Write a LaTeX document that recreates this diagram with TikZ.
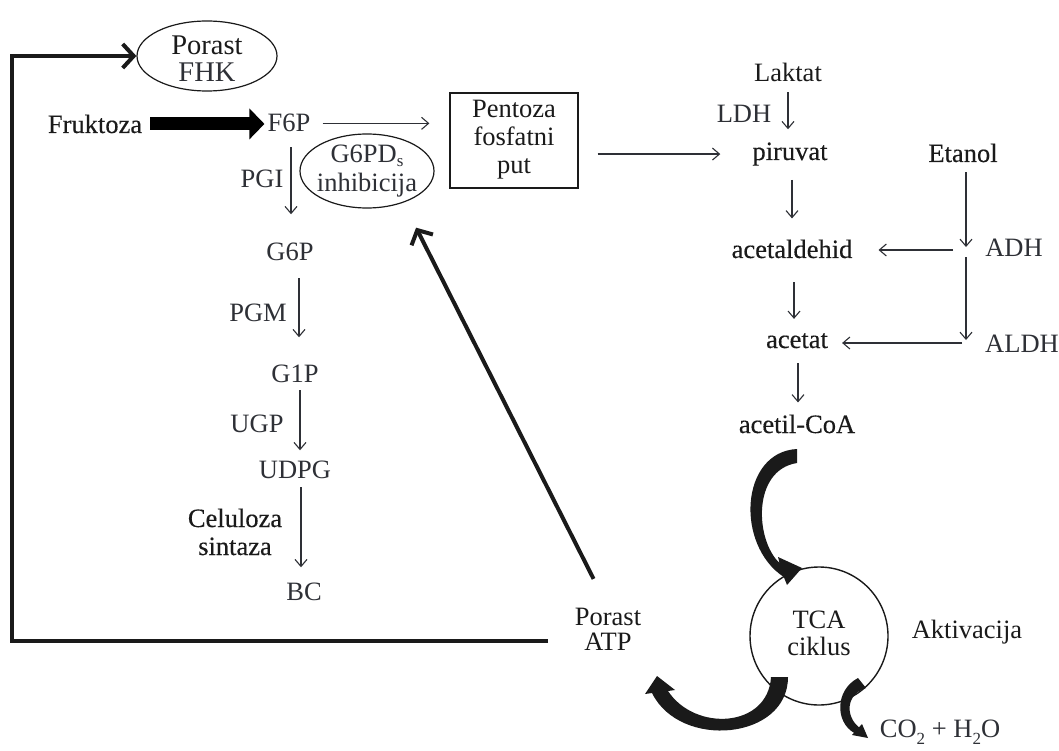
\documentclass[tikz,border=0pt]{standalone}
\usepackage{fontspec}
\setmainfont{Liberation Serif}
\newfontfamily\heavyserif{Liberation Serif}[FakeBold=0.3]
\usetikzlibrary{shapes.geometric,arrows.meta,calc}
\definecolor{ink}{HTML}{1A1A1A}
\definecolor{soft}{HTML}{2E3036}
\newcommand\lowsub[2][0.3em]{\raisebox{-#1}{\fontsize{17}{17}\selectfont #2}}
\begin{document}
\begin{tikzpicture}[x=1pt,y=-1pt,
  blab/.style={font=\fontsize{26.5}{28}\selectfont, text=ink, inner sep=0pt, anchor=base},
  hlab/.style={font=\heavyserif\fontsize{26.5}{28}\selectfont, text=ink, inner sep=0pt, anchor=base},
  glab/.style={font=\fontsize{26.5}{28}\selectfont, text=soft, inner sep=0pt, anchor=base},
  oval/.style={ellipse, draw=ink, line width=1.2pt, inner sep=0pt},
  thinarr/.style={draw=soft, line width=1.1pt, -{Straight Barb[length=7pt,width=12pt]}},
  fatarr/.style={draw=ink, line width=4pt, -{Straight Barb[length=11pt,width=24pt]}},
]
\useasboundingbox[fill=white] (0,0) rectangle (1059,751);

% ---- top left
\node[oval, minimum width=140pt, minimum height=70pt] (fhk) at (207,56) {};
\node[blab, font=\fontsize{28.5}{30}\selectfont] (porastT) at (207,55) {Porast};
\node[glab, font=\fontsize{28.5}{30}\selectfont] (fhkT) at (207,82) {FHK};

\node[hlab] (fruk) at (95,133) {Fruktoza};
\node[glab] (f6p) at (289,132) {F6P};

\node[oval, minimum width=134pt, minimum height=74pt] (g6pd) at (367,171) {};
\node[glab] (g6pdT) at (367,163) {G6PD\lowsub[0.15em]{s}};
\node[glab] (inhT) at (367,192) {inhibicija};

\node[draw=ink, line width=1.2pt, minimum width=128pt, minimum height=95pt, inner sep=0pt] (pent) at (514,140.5) {};
\node[blab] (pent1) at (514,118) {Pentoza};
\node[blab] (pent2) at (514,146) {fosfatni};
\node[blab] (pent3) at (514,174) {put};

% ---- left chain
\node[glab] (pgi) at (262,188) {PGI};
\node[glab] (g6p) at (290,261) {G6P};
\node[glab] (pgm) at (258,321) {PGM};
\node[glab] (g1p) at (295,382) {G1P};
\node[glab] (ugp) at (257,432) {UGP};
\node[glab] (udpg) at (295,478) {UDPG};
\node[hlab] (celu1) at (235,527) {Celuloza};
\node[hlab] (celu2) at (235,555) {sintaza};
\node[glab] (bc) at (304,600) {BC};

% ---- right chain
\node[blab] (laktat) at (788,82) {Laktat};
\node[glab] (ldh) at (744,123) {LDH};
\node[hlab] (piruvat) at (790,160) {piruvat};
\node[hlab] (etanol) at (963,162) {Etanol};
\node[hlab] (acald) at (792,258) {acetaldehid};
\node[glab] (adh) at (1014,256) {ADH};
\node[hlab] (acetat) at (797,348) {acetat};
\node[glab] (aldh) at (1022,352) {ALDH};
\node[hlab] (acoa) at (797,433) {acetil-CoA};
\coordinate (adhj) at (966,250);
\coordinate (aldhj) at (966,343);

% ---- bottom
\node[circle, draw=ink, line width=1.4pt, minimum size=138pt, inner sep=0pt] (tca) at (819,636) {};
\node[blab] (tca1) at (819,628) {TCA};
\node[blab] (tca2) at (819,655) {ciklus};
\node[blab] (aktiv) at (967,638) {Aktivacija};
\node[blab] (atp1) at (608,625) {Porast};
\node[blab] (atp2) at (608,650) {ATP};
\node[glab] (co2) at (940,737) {CO\lowsub{2} + H\lowsub{2}O};
\coordinate (fb) at (548,641);

% ---- thin arrows
\draw[thinarr, shorten <=12pt, shorten >=20pt] (f6p.east) -- (f6p.east -| pent.west);
\draw[thinarr, shorten <=19pt, shorten >=32pt] (pent.east |- piruvat) -- (piruvat.west);
\draw[thinarr, shorten <=10pt, shorten >=13pt] (laktat.south) -- (laktat.south |- piruvat.north);
\draw[thinarr, shorten <=14pt, shorten >=21pt] ([xshift=2pt]piruvat.south) -- ([xshift=2pt]piruvat.south |- acald.north);
\draw[thinarr, shorten <=24pt, shorten >=14pt] ([xshift=2pt]acald.south) -- ([xshift=2pt]acald.south |- acetat.north);
\draw[thinarr, shorten <=15pt, shorten >=12pt] ([xshift=1pt]acetat.south) -- ([xshift=1pt]acetat.south |- acoa.north);
\draw[thinarr, shorten <=10pt, shorten >=3pt] (adhj |- etanol.south) -- (adhj);
\draw[thinarr, shorten <=7pt, shorten >=3pt] (adhj) -- (aldhj);
\draw[thinarr, shorten <=13pt, shorten >=26pt] (adhj) -- (adhj -| acald.east);
\draw[thinarr, shorten <=4pt, shorten >=14pt] (aldhj) -- (aldhj -| acetat.east);

\draw[thinarr, shorten <=15pt, shorten >=29pt] ([xshift=1pt]g6p.north |- f6p.south) -- ([xshift=1pt]g6p.north);
\draw[thinarr, shorten <=17pt, shorten >=27pt] ([xshift=4pt]g1p.north |- g6p.south) -- ([xshift=4pt]g1p.north);
\draw[thinarr, shorten <=8pt, shorten >=10pt] ([xshift=5pt]udpg.north |- g1p.south) -- ([xshift=5pt]udpg.north);
\draw[thinarr, shorten <=9pt, shorten >=15pt] ([xshift=-3pt]bc.north |- udpg.south) -- ([xshift=-3pt]bc.north);

% ---- big black arrow Fruktoza -> F6P
\draw[draw=black, line width=13pt, -{Triangle[length=15pt,width=30pt]}, shorten <=8pt, shorten >=3pt] (fruk.east) -- (fruk.east -| f6p.west);

% ---- thick feedback arrows
\draw[fatarr, line join=miter] (fb) -- (12,641) |- (fhk.west);
\draw[fatarr, shorten <=32pt, shorten >=28pt] (atp1.north) -- (g6pd.-41);

% ---- curved filled arrows
\fill[ink] (797,449) .. controls (740,452) and (735,545) .. (783.8,577) -- (787,585) -- (802,568) -- (778,557) -- (779.5,563) .. controls (755,540) and (752,470) .. (797,463) -- cycle;
\fill[ink] (788,677) .. controls (788,740) and (680,750) .. (652,693) -- (645,694) -- (657,676) -- (675,690) -- (668,691) .. controls (695,732) and (768,728) .. (771,677) -- cycle;
\fill[ink] (858,678) .. controls (835,690) and (835,722) .. (854,732.8) -- (852,735) -- (868,738) -- (862,724) -- (859,727.3) .. controls (845,716) and (846,694) .. (866,688) -- cycle;
\end{tikzpicture}
\end{document}
